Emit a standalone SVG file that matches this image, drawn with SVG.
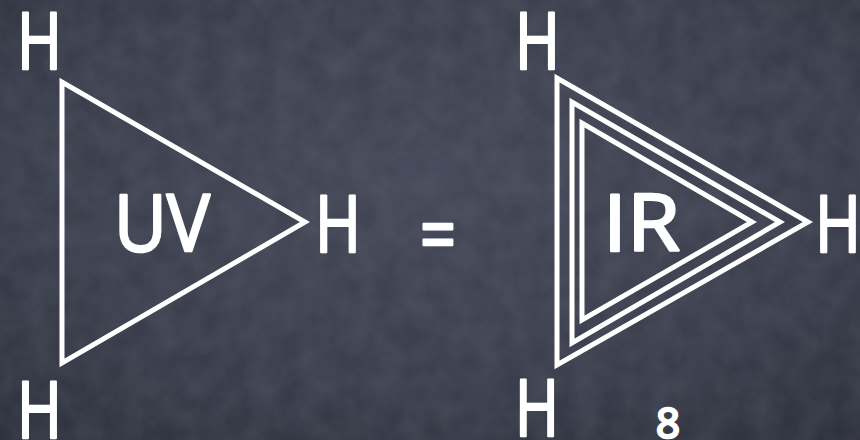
<svg xmlns="http://www.w3.org/2000/svg" width="860" height="440" viewBox="0 0 860 440">
<defs>
<radialGradient id="bg" cx="0.5" cy="0.4" r="0.8">
<stop offset="0" stop-color="#434757"/>
<stop offset="0.6" stop-color="#3a3e4c"/>
<stop offset="1" stop-color="#2c2f3b"/>
</radialGradient>
<filter id="chalk" x="0" y="0" width="1" height="1">
<feTurbulence type="fractalNoise" baseFrequency="0.04" numOctaves="3" seed="4" result="n"/>
<feColorMatrix in="n" type="matrix" values="0 0 0 0 0.55  0 0 0 0 0.58  0 0 0 0 0.66  0 0 0 0.14 -0.03" result="c"/>
<feComposite in="c" in2="SourceGraphic" operator="in"/>
</filter>
<style>
.t{font-family:"Open Sans","DejaVu Sans",sans-serif;fill:#ffffff;stroke:#ffffff;stroke-width:2.5;stroke-linejoin:round}
.tri{fill:none;stroke:#ffffff;stroke-width:5;stroke-linejoin:miter;stroke-linecap:round}
</style>
</defs>
<rect width="860" height="440" fill="url(#bg)"/>
<rect width="860" height="440" fill="#ffffff" filter="url(#chalk)"/>
<g id="connectors">
<polygon id="uv-triangle" class="tri" points="62,82 62,363 305,222"/>
<polygon id="ir-outer" class="tri" points="557,78 557,365 808,222"/>
<polygon id="ir-middle" class="tri" points="572,102 572,343 780,222"/>
<polygon id="ir-inner" class="tri" points="582,123 582,320 752,222"/>
</g>
<g id="uv-node">
<text class="t" x="114" y="251" font-size="78" textLength="96" lengthAdjust="spacingAndGlyphs">UV</text>
</g>
<g id="ir-node">
<text class="t" x="603" y="251" font-size="78" textLength="77" lengthAdjust="spacingAndGlyphs">IR</text>
</g>
<g id="h-left-top"><text class="t" x="17" y="69" font-size="78" textLength="45" lengthAdjust="spacingAndGlyphs">H</text></g>
<g id="h-left-bottom"><text class="t" x="17" y="438" font-size="78" textLength="45" lengthAdjust="spacingAndGlyphs">H</text></g>
<g id="h-left-apex"><text class="t" x="315" y="252" font-size="78" textLength="46" lengthAdjust="spacingAndGlyphs">H</text></g>
<g id="h-right-top"><text class="t" x="515" y="69" font-size="78" textLength="45" lengthAdjust="spacingAndGlyphs">H</text></g>
<g id="h-right-bottom"><text class="t" x="515" y="436" font-size="78" textLength="44" lengthAdjust="spacingAndGlyphs">H</text></g>
<g id="h-right-apex"><text class="t" x="815" y="252" font-size="78" textLength="46" lengthAdjust="spacingAndGlyphs">H</text></g>
<g id="equals"><text class="t" x="420" y="262" font-size="78" textLength="36" lengthAdjust="spacingAndGlyphs">=</text></g>
<g id="page-number"><text class="t" x="668" y="438" font-size="42" text-anchor="middle" stroke-width="0.8">8</text></g>
</svg>
